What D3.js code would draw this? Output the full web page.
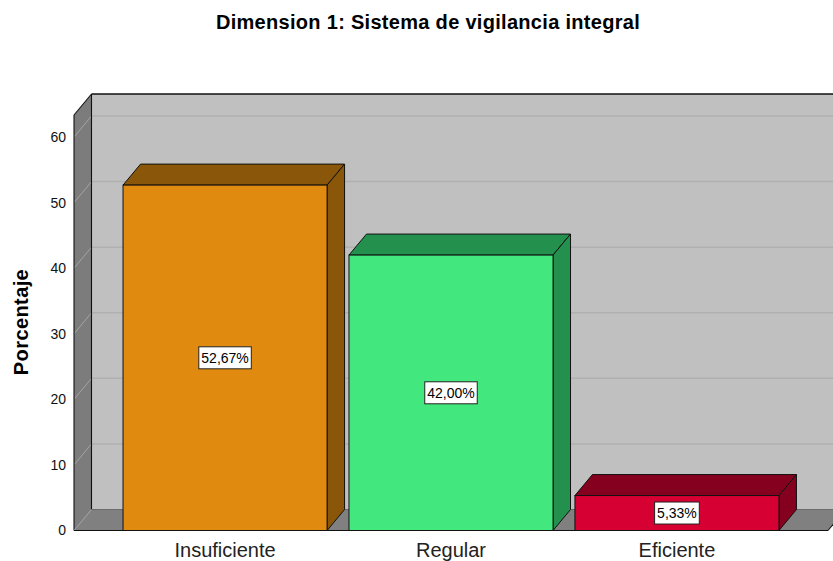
<!DOCTYPE html>
<html>
<head>
<meta charset="utf-8">
<script src="https://cdn.jsdelivr.net/npm/d3@7"></script>
<style>
  body { margin: 0; background: #fff; }
  svg { display: block; font-family: "Liberation Sans", Arial, sans-serif; }
</style>
</head>
<body>
<div id="chart"></div>
<script>
const categories = ["Insuficiente", "Regular", "Eficiente"];
const values = [52.67, 42.00, 5.33];
const valueLabels = ["52,67%", "42,00%", "5,33%"];
const yTicks = [0, 10, 20, 30, 40, 50, 60];

const frontColors = ["#e18a10", "#42e87e", "#d70033"];
const darkColors = ["#8a560a", "#23904e", "#85001f"];

const width = 833;
const height = 561;

// depth offset of the 3d box
const DX = 17.5;
const DY = -21;

const x = d3.scaleBand()
    .domain(categories)
    .range([74, 828])
    .paddingInner(0.097)
    .paddingOuter(0.217);

const y = d3.scaleLinear()
    .domain([0, 63.36])
    .range([530.5, 115]);

const svg = d3.select("#chart").append("svg")
    .attr("width", width)
    .attr("height", height);

const [x0, x1] = x.range();
const [y0, y1] = y.range();

// back wall
svg.append("rect")
    .attr("x", x0 + DX)
    .attr("y", y1 + DY)
    .attr("width", x1 - x0)
    .attr("height", y0 - y1)
    .attr("fill", "#c0c0c0");

svg.append("g")
  .selectAll("line")
  .data(yTicks.filter(d => d > 0))
  .enter()
  .append("line")
    .attr("x1", x0 + DX)
    .attr("x2", x1 + DX)
    .attr("y1", d => y(d) + DY)
    .attr("y2", d => y(d) + DY)
    .attr("stroke", "#b0b0b0")
    .attr("stroke-width", 1.5);

// left wall
svg.append("polygon")
    .attr("points", [[x0, y0], [x0, y1], [x0 + DX, y1 + DY], [x0 + DX, y0 + DY]].join(" "))
    .attr("fill", "#7c7c7c");

svg.append("g")
  .selectAll("line")
  .data(yTicks.filter(d => d > 0))
  .enter()
  .append("line")
    .attr("x1", x0)
    .attr("x2", x0 + DX)
    .attr("y1", d => y(d))
    .attr("y2", d => y(d) + DY)
    .attr("stroke", "#a4a4a4")
    .attr("stroke-width", 1);

// floor
svg.append("polygon")
    .attr("points", [[x0, y0], [x1, y0], [x1 + DX, y0 + DY], [x0 + DX, y0 + DY]].join(" "))
    .attr("fill", "#808080");

// outlines
const edges = [
  [[x0, y0], [x0, y1]],
  [[x0, y1], [x0 + DX, y1 + DY]],
  [[x0 + DX, y1 + DY], [x1 + DX + 20, y1 + DY]],
  [[x0 + DX, y1 + DY], [x0 + DX, y0 + DY]],
  [[x0, y0], [x0 + DX, y0 + DY]],
  [[x0 + DX, y0 + DY], [x1 + DX, y0 + DY]],
  [[x0, y0], [x1, y0]],
  [[x1, y0], [x1 + DX, y0 + DY]]
];
svg.append("g")
  .selectAll("line")
  .data(edges)
  .enter()
  .append("line")
    .attr("x1", d => d[0][0])
    .attr("y1", d => d[0][1])
    .attr("x2", d => d[1][0])
    .attr("y2", d => d[1][1])
    .attr("stroke", (d, i) => (i === 4 ? "#9a9a9a" : i === 5 ? "#6a6a6a" : "#111"))
    .attr("stroke-width", (d, i) => (i === 2 ? 1.6 : 1.1));

// bars
const bars = svg.append("g")
  .selectAll("g")
  .data(categories.map((c, i) => ({ cat: c, value: values[i], label: valueLabels[i], i })))
  .enter()
  .append("g");

bars.append("polygon")
    .attr("points", d => {
      const l = x(d.cat), r = l + x.bandwidth(), t = y(d.value);
      return [[l, t], [l + DX, t + DY], [r + DX, t + DY], [r, t]].join(" ");
    })
    .attr("fill", d => darkColors[d.i])
    .attr("stroke", "#111")
    .attr("stroke-linejoin", "round");

bars.append("polygon")
    .attr("points", d => {
      const r = x(d.cat) + x.bandwidth(), t = y(d.value);
      return [[r, t], [r + DX, t + DY], [r + DX, y0 + DY], [r, y0]].join(" ");
    })
    .attr("fill", d => darkColors[d.i])
    .attr("stroke", "#111")
    .attr("stroke-linejoin", "round");

bars.append("rect")
    .attr("x", d => x(d.cat))
    .attr("y", d => y(d.value))
    .attr("width", x.bandwidth())
    .attr("height", d => y0 - y(d.value))
    .attr("fill", d => frontColors[d.i])
    .attr("stroke", "#111");

// value labels
const lab = bars.append("g")
    .attr("transform", d => `translate(${x(d.cat) + x.bandwidth() / 2},${(y(d.value) + y0) / 2})`);

lab.append("text")
    .attr("text-anchor", "middle")
    .attr("dy", "0.36em")
    .attr("font-size", 14)
    .attr("fill", "#000")
    .text(d => d.label)
    .each(function () {
      const b = this.getBBox();
      d3.select(this.parentNode).insert("rect", "text")
          .attr("x", b.x - 2.5)
          .attr("y", -11)
          .attr("width", b.width + 5)
          .attr("height", 22)
          .attr("fill", "#fff")
          .attr("stroke", "#222");
    });

// axes
const yAxis = svg.append("g")
    .attr("transform", `translate(${x0},0)`)
    .call(d3.axisLeft(y).tickValues(yTicks).tickSize(0).tickPadding(8));
yAxis.select(".domain").remove();
yAxis.selectAll("text")
    .attr("font-size", 14)
    .attr("font-family", "Liberation Sans, Arial, sans-serif")
    .attr("fill", "#111");

const xAxis = svg.append("g")
    .attr("transform", `translate(0,${y0})`)
    .call(d3.axisBottom(x).tickSize(0).tickPadding(12));
xAxis.select(".domain").remove();
xAxis.selectAll("text")
    .attr("font-size", 20)
    .attr("font-family", "Liberation Sans, Arial, sans-serif")
    .attr("fill", "#222");

// titles
svg.append("text")
    .attr("x", 428)
    .attr("y", 29)
    .attr("text-anchor", "middle")
    .attr("font-size", 20)
    .attr("font-weight", "bold")
    .attr("letter-spacing", 0.3)
    .attr("fill", "#000")
    .text("Dimension 1: Sistema de vigilancia integral");

svg.append("text")
    .attr("transform", "translate(28,322) rotate(-90)")
    .attr("text-anchor", "middle")
    .attr("font-size", 20)
    .attr("font-weight", "bold")
    .attr("letter-spacing", 0.4)
    .attr("fill", "#000")
    .text("Porcentaje");
</script>
</body>
</html>
